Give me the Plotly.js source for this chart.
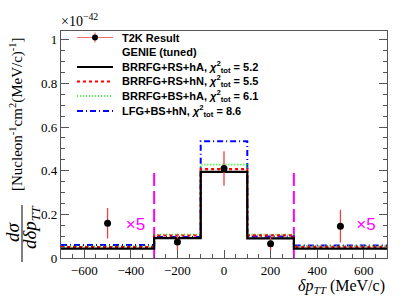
<!DOCTYPE html>
<html><head><meta charset="utf-8">
<script src="https://cdn.plot.ly/plotly-3.0.1.min.js"></script>
<style>html,body{margin:0;padding:0;background:#fff}#chart{width:407px;height:305px}</style>
</head><body><div id="chart"></div>
<script>
// ---- data ----
const binEdges = [-700, -300, -100, 100, 300, 700];
const mcRSHA  = [0.043, 0.091, 0.395, 0.090, 0.043];   // BRRFG+RS+hA
const mcRSHN  = [0.050, 0.103, 0.407, 0.104, 0.051];   // BRRFG+RS+hN
const mcBSHA  = [0.054, 0.108, 0.428, 0.108, 0.055];   // BRRFG+BS+hA
const mcLFG   = [0.059, 0.096, 0.535, 0.098, 0.057];   // LFG+BS+hN
const dataX   = [-500, -200, 0, 200, 500];
const dataY   = [0.159, 0.073, 0.410, 0.065, 0.146];
const dataErr = [0.070, 0.038, 0.079, 0.030, 0.075];
const dividerX = [-300, 300];
const dividerY = [0, 0.39];
const scaleLabelX = [-380, 610];
const scaleLabelY = [0.146, 0.146];
const scaleLabel = '×5';
const dataName = 'T2K Result';
const groupName = 'GENIE (tuned)';
const seriesNames = [
  'BRRFG+RS+hA, <i>χ</i><sup>2</sup><sub>tot</sub> = 5.2',
  'BRRFG+RS+hN, <i>χ</i><sup>2</sup><sub>tot</sub> = 5.5',
  'BRRFG+BS+hA, <i>χ</i><sup>2</sup><sub>tot</sub> = 6.1',
  'LFG+BS+hN, <i>χ</i><sup>2</sup><sub>tot</sub> = 8.6'
];

function stepY(v){ return v.concat([v[v.length-1]]); }

const W = 407, H = 305, ML = 61, MR = 20, MT = 31, MB = 47;
const PW = W - ML - MR, PH = H - MT - MB;
const px2x = p => (p - ML) / PW;
const px2y = p => (H - MB - p) / PH;

const traces = [];
dividerX.forEach(x => traces.push({
  x:[x,x], y:dividerY, mode:'lines', showlegend:false, hoverinfo:'skip',
  line:{color:'#ff00ff', width:2, dash:'13px,5px'}
}));
const mcs = [mcRSHA, mcRSHN, mcBSHA, mcLFG];
const styles = [
  {color:'#000000', width:2.2, dash:'solid'},
  {color:'#ff0000', width:2.2, dash:'3px,3px'},
  {color:'#00ee00', width:1.6, dash:'1px,2px'},
  {color:'#0000ff', width:2, dash:'6px,3px,1px,3px'}
];
[3,2,1,0].forEach(i => traces.push({
  x: binEdges, y: stepY(mcs[i]), mode:'lines', name: seriesNames[i], showlegend:false,
  line: Object.assign({shape:'hv'}, styles[i])
}));
traces.push({x:dataX, y:dataY, mode:'markers', name:dataName, showlegend:false,
  marker:{color:'#000', size:7},
  error_y:{type:'data', array:dataErr, visible:true, color:'#f04040', thickness:1.3, width:0}});
traces.push({x:scaleLabelX, y:scaleLabelY, mode:'text', text:[scaleLabel, scaleLabel],
  showlegend:false, textfont:{color:'#ff00ff', size:17, family:'Liberation Sans'}});

const serif = 'Liberation Serif, Times New Roman, serif';
const legFont = {family:'Liberation Sans, Arial', size:11, color:'#000', weight:'bold'};

// ---- manual legend ----
const rows = [37.5, 52, 67, 81.5, 96, 111];
const shapes = [];
const annotations = [];
const lx0 = px2x(77), lx1 = px2x(113), lxm = px2x(95), ltx = px2x(120);
shapes.push({type:'line', xref:'paper', yref:'paper', x0:lx0, x1:lx1, y0:px2y(rows[0]), y1:px2y(rows[0]),
  line:{color:'#f07070', width:1.2}});
shapes.push({type:'line', xref:'paper', yref:'paper', x0:lxm, x1:lxm, y0:px2y(rows[0]-5), y1:px2y(rows[0]+5),
  line:{color:'#f07070', width:1.2}});
shapes.push({type:'circle', xref:'paper', yref:'paper', xsizemode:'pixel', ysizemode:'pixel',
  xanchor:lxm, yanchor:px2y(rows[0]), x0:-3, x1:3, y0:-3, y1:3,
  fillcolor:'#000', line:{color:'#000', width:0}});
const legendTexts = [dataName, groupName].concat(seriesNames);
legendTexts.forEach((t,i) => annotations.push({xref:'paper', yref:'paper', x:ltx, y:px2y(rows[i]),
  xanchor:'left', yanchor:'middle', text:t, showarrow:false, font:legFont}));
styles.forEach((s,i) => shapes.push({type:'line', xref:'paper', yref:'paper', x0:lx0, x1:lx1,
  y0:px2y(rows[i+2]), y1:px2y(rows[i+2]), line:{color:s.color, width:s.width, dash:s.dash}}));

// ---- axis titles ----
const titleFont = {family:serif, size:15, color:'#000'};
annotations.push({xref:'paper', yref:'paper', x:px2x(12), y:px2y(232), textangle:-90,
  xanchor:'center', yanchor:'middle', text:'<i>dσ</i>', showarrow:false, font:{family:serif, size:19, color:'#000'}});
shapes.push({type:'line', xref:'paper', yref:'paper', x0:px2x(22), x1:px2x(22), y0:px2y(205), y1:px2y(262),
  line:{color:'#000', width:1}});
annotations.push({xref:'paper', yref:'paper', x:px2x(31), y:px2y(227), textangle:-90,
  xanchor:'center', yanchor:'middle', text:'<i>dδp</i><sub><i>TT</i></sub>', showarrow:false, font:{family:serif, size:19, color:'#000'}});
annotations.push({xref:'paper', yref:'paper', x:px2x(17), y:px2y(114), textangle:-90,
  xanchor:'center', yanchor:'middle', text:'[Nucleon<sup>-1</sup>cm<sup>2</sup>(MeV/c)<sup>-1</sup>]', showarrow:false, font:titleFont});
annotations.push({xref:'paper', yref:'paper', x:1, y:px2y(286), xanchor:'right', yanchor:'middle',
  text:'<i>δp</i><sub><i>TT</i></sub> (MeV/c)', showarrow:false, font:{family:serif, size:16, color:'#000'}});
annotations.push({xref:'paper', yref:'paper', x:px2x(59), y:1.0, xanchor:'left', yanchor:'bottom',
  text:'×10<sup>−42</sup>', showarrow:false, font:{family:serif, size:14, color:'#000'}});

const layout = {
  width:W, height:H,
  margin:{l:ML, r:MR, t:MT, b:MB},
  paper_bgcolor:'#fff', plot_bgcolor:'#fff',
  showlegend:false,
  xaxis:{range:[-700,700], showgrid:false, zeroline:false,
    showline:true, linecolor:'#555', linewidth:1.2, mirror:true,
    ticks:'inside', ticklen:8, tickcolor:'#555', dtick:200, tick0:0,
    tickfont:{family:serif, size:13, color:'#000'},
    minor:{ticks:'inside', ticklen:4, dtick:50, tickcolor:'#555', showgrid:false}
  },
  yaxis:{range:[0,1.04], showgrid:false, zeroline:false,
    showline:true, linecolor:'#555', linewidth:1.2, mirror:'ticks',
    ticks:'inside', ticklen:8, tickcolor:'#555',
    tickvals:[0,0.2,0.4,0.6,0.8,1], ticktext:['0','0.2','0.4','0.6','0.8','1'],
    tickfont:{family:serif, size:13, color:'#000'},
    minor:{ticks:'inside', ticklen:4, dtick:0.05, tickcolor:'#555', showgrid:false}
  },
  shapes: shapes,
  annotations: annotations
};
Plotly.newPlot('chart', traces, layout, {displayModeBar:false, staticPlot:true});
</script></body></html>
